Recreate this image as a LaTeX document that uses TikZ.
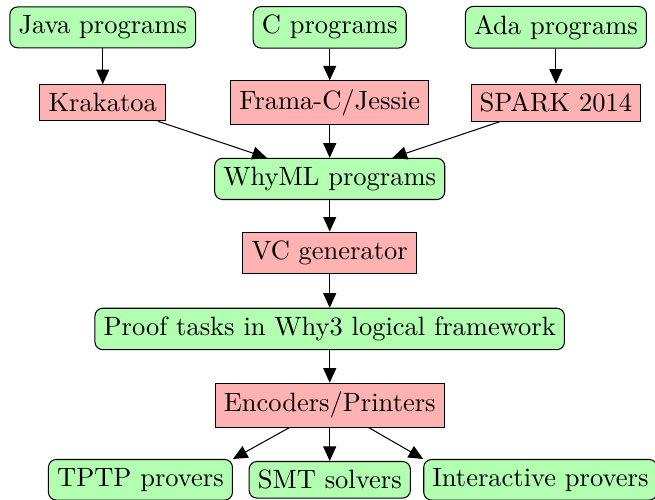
\documentclass[tikz,border=0pt]{standalone}
\usetikzlibrary{arrows.meta}
\begin{document}
\begin{tikzpicture}[
    every node/.style={font=\fontsize{10.2}{12}\selectfont},
    lang/.style={draw=black, fill=green!30, rounded corners=3pt},
    tool/.style={draw=black, fill=red!30},
    >={Triangle[length=5.6pt,width=5pt]}]
    \useasboundingbox (0,0) rectangle (8.86,-6.76);

    \node[lang] (java) at (1.39,-0.37) {Java programs};
    \node[lang] (cprog) at (4.46,-0.37) {C programs};
    \node[lang] (ada) at (7.52,-0.37) {Ada programs};

    \node[tool] (krakatoa) at (1.39,-1.39) {Krakatoa};
    \node[tool] (frama) at (4.46,-1.39) {Frama-C/Jessie};
    \node[tool] (spark) at (7.52,-1.39) {SPARK 2014};

    \node[lang] (whyml) at (4.46,-2.42) {WhyML programs};
    \node[tool] (vcgen) at (4.46,-3.42) {VC generator};
    \node[lang] (tasks) at (4.46,-4.45) {Proof tasks in Why3 logical framework};
    \node[tool] (printers) at (4.46,-5.48) {Encoders/Printers};

    \node[lang] (tptp) at (1.90,-6.49) {TPTP provers};
    \node[lang] (smt) at (4.46,-6.49) {SMT solvers};
    \node[lang] (itp) at (7.31,-6.49) {Interactive provers};

    \draw[->] (java) -- (krakatoa);
    \draw[->] (cprog) -- (frama);
    \draw[->] (ada) -- (spark);
    \draw[->] (krakatoa) -- (whyml);
    \draw[->] (frama) -- (whyml);
    \draw[->] (spark) -- (whyml);
    \draw[->] (whyml) -- (vcgen);
    \draw[->] (vcgen) -- (tasks);
    \draw[->] (tasks) -- (printers);
    \draw[->] (printers) -- (tptp.north east);
    \draw[->] (printers) -- (smt);
    \draw[->] (printers) -- (itp.north west);
\end{tikzpicture}
\end{document}
